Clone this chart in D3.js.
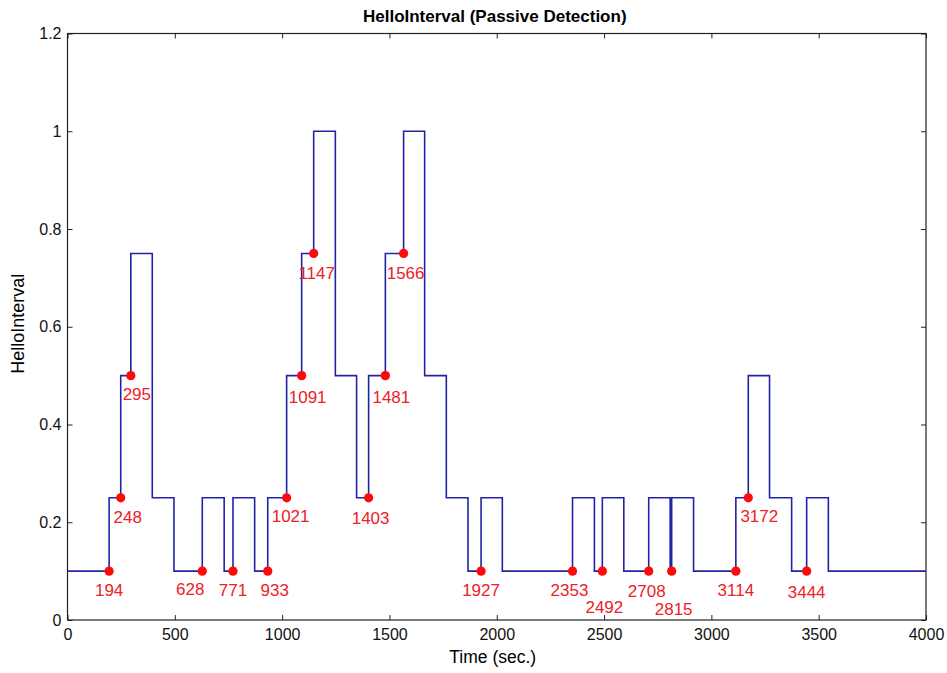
<!DOCTYPE html>
<html>
<head>
<meta charset="utf-8">
<script src="https://cdn.jsdelivr.net/npm/d3@7"></script>
<style>
  body { margin: 0; background: #fff; }
  text { font-family: "Liberation Sans", Arial, sans-serif; }
</style>
</head>
<body>
<div id="chart"></div>
<script>
// step series: time where the value changes, and the value from there on
const stepTimes = [0, 194, 248, 295, 395, 496, 628, 730, 771, 872, 933, 1021, 1091, 1147, 1248,
  1347, 1403, 1481, 1566, 1664, 1765, 1866, 1927, 2026, 2353, 2455, 2492, 2592, 2708, 2808,
  2815, 2917, 3114, 3172, 3271, 3374, 3444, 3545, 4000];
const stepValues = [0.1, 0.25, 0.5, 0.75, 0.25, 0.1, 0.25, 0.1, 0.25, 0.1, 0.25, 0.5, 0.75, 1.0, 0.5,
  0.25, 0.5, 0.75, 1.0, 0.5, 0.25, 0.1, 0.25, 0.1, 0.25, 0.1, 0.25, 0.1, 0.25, 0.1,
  0.25, 0.1, 0.25, 0.5, 0.25, 0.1, 0.25, 0.1, 0.1];

// detection points (red dots)
const detectTimes = [194, 248, 295, 628, 771, 933, 1021, 1091, 1147, 1403, 1481, 1566,
  1927, 2353, 2492, 2708, 2815, 3114, 3172, 3444];
const detectValues = [0.1, 0.25, 0.5, 0.1, 0.1, 0.1, 0.25, 0.5, 0.75, 0.25, 0.5, 0.75,
  0.1, 0.1, 0.1, 0.1, 0.1, 0.1, 0.25, 0.1];

const xTicks = [0, 500, 1000, 1500, 2000, 2500, 3000, 3500, 4000];
const yTicks = [0, 0.2, 0.4, 0.6, 0.8, 1, 1.2];

const W = 947, H = 673;
const margin = {top: 33.5, right: 21, bottom: 53, left: 67.5},
    width = W - margin.left - margin.right,
    height = H - margin.top - margin.bottom;

const svg = d3.select("#chart")
  .append("svg")
    .attr("width", W)
    .attr("height", H)
  .append("g")
    .attr("transform", `translate(${margin.left},${margin.top})`);

const x = d3.scaleLinear().domain([0, 4000]).range([0, width]);
const y = d3.scaleLinear().domain([0, 1.2]).range([height, 0]);

const fmt = d3.format("~g");

// axes, matlab style: ticks pointing in, box all round
svg.append("g")
  .attr("transform", `translate(0,${height})`)
  .call(d3.axisBottom(x).tickValues(xTicks).tickFormat(fmt).tickSizeInner(-5).tickSizeOuter(0).tickPadding(9));
svg.append("g")
  .call(d3.axisTop(x).tickValues(xTicks).tickFormat("").tickSizeInner(-5).tickSizeOuter(0));
svg.append("g")
  .call(d3.axisLeft(y).tickValues(yTicks).tickFormat(fmt).tickSizeInner(-5).tickSizeOuter(0).tickPadding(6));
svg.append("g")
  .attr("transform", `translate(${width},0)`)
  .call(d3.axisRight(y).tickValues(yTicks).tickFormat("").tickSizeInner(-5).tickSizeOuter(0));

svg.selectAll(".domain").remove();
svg.selectAll(".tick line").attr("stroke", "#222");
svg.selectAll(".tick text").attr("fill", "#111").style("font-size", "16px");

svg.append("rect")
  .attr("width", width)
  .attr("height", height)
  .attr("fill", "none")
  .attr("stroke", "#222")
  .attr("stroke-width", 1.2);

// step line
const steps = stepTimes.map((t, i) => ({t: t, v: stepValues[i]}));
svg.append("path")
  .datum(steps)
  .attr("d", d3.line()
    .curve(d3.curveStepAfter)
    .x(d => x(d.t))
    .y(d => y(d.v)))
  .attr("stroke", "#2323a8")
  .style("stroke-width", 1.6)
  .style("fill", "none");

// points + labels
const pts = detectTimes.map((t, i) => ({t: t, v: detectValues[i]}));

// label nudges (px) where the plot shifted them
const nudge = {
  248: [7, 20], 295: [6, 19], 628: [-12, 18], 933: [7, 19], 1021: [4, 19],
  1091: [6, 22], 1147: [3, 20], 1403: [2, 21], 1481: [6, 22], 1566: [2, 20],
  2353: [-3, 19], 2492: [2, 36], 2708: [-2, 20], 2815: [2, 38], 3172: [11, 19], 3444: [0, 21]
};

svg.append("g")
  .selectAll("circle")
  .data(pts)
  .enter()
  .append("circle")
    .attr("cx", d => x(d.t))
    .attr("cy", d => y(d.v))
    .attr("r", 4.6)
    .attr("fill", "#ff0a0a");

svg.append("g")
  .selectAll("text")
  .data(pts)
  .enter()
  .append("text")
    .attr("x", d => x(d.t) + (nudge[d.t] ? nudge[d.t][0] : 0))
    .attr("y", d => y(d.v) + (nudge[d.t] ? nudge[d.t][1] : 19))
    .attr("text-anchor", "middle")
    .attr("dominant-baseline", "central")
    .attr("fill", "#ee2028")
    .style("font-size", "17px")
    .text(d => d.t);

// title + axis labels
svg.append("text")
  .attr("x", width / 2 - 2)
  .attr("y", -12)
  .attr("text-anchor", "middle")
  .style("font-size", "17px")
  .style("font-weight", "bold")
  .text("HelloInterval (Passive Detection)");

svg.append("text")
  .attr("x", width / 2 - 4)
  .attr("y", height + 43)
  .attr("text-anchor", "middle")
  .style("font-size", "17.5px")
  .text("Time (sec.)");

svg.append("text")
  .attr("transform", `translate(${-margin.left + 24},${y(0.6) - 3}) rotate(-90)`)
  .attr("text-anchor", "middle")
  .style("font-size", "18px")
  .text("HelloInterval");
</script>
</body>
</html>
